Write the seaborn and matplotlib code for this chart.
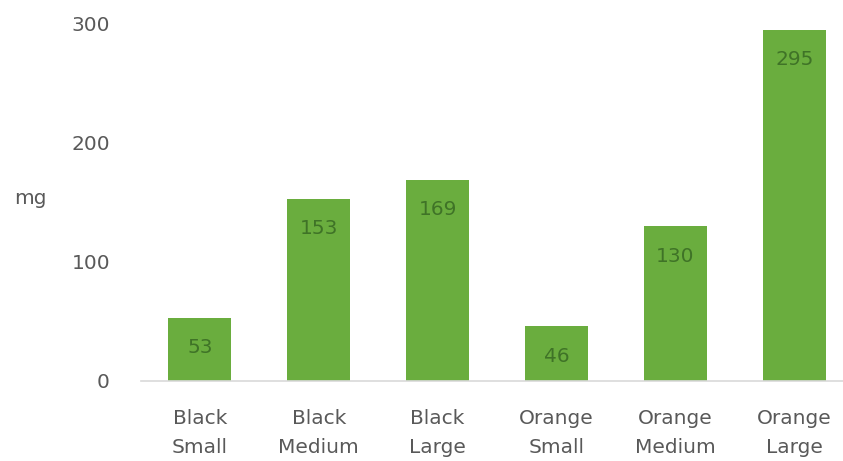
import matplotlib
matplotlib.use("Agg")
import matplotlib.pyplot as plt
import seaborn as sns
import pandas as pd

categories = ["Black\nSmall", "Black\nMedium", "Black\nLarge",
              "Orange\nSmall", "Orange\nMedium", "Orange\nLarge"]
values = [53, 153, 169, 46, 130, 295]
yticks = [0, 100, 200, 300]

sns.set_theme(style="white")
plt.rcParams['font.family'] = ['DejaVu Sans']

df = pd.DataFrame({"cat": categories, "mg": values})

fig = plt.figure(figsize=(8.43, 4.61), dpi=100)
ax = fig.add_axes([140.5/843, 1-381/461, 1-140.5/843, (381-12)/461])

sns.barplot(data=df, x="cat", y="mg", color="#6AAD3E", saturation=1,
            width=0.53, ax=ax, linewidth=0)

ax.set_ylim(0, 310)
ax.set_xlim(-0.5, 5.41)
ax.set_yticks(yticks)
ax.set_yticklabels([str(t) for t in yticks])

FS = 14.5
for s in ["top", "right", "left"]:
    ax.spines[s].set_visible(False)
ax.spines["bottom"].set_color("#D9D9D9")
ax.spines["bottom"].set_linewidth(1.2)

ax.tick_params(axis="y", length=0, pad=22, labelsize=FS, labelcolor="#595959")
ax.tick_params(axis="x", length=0, pad=20, labelsize=FS, labelcolor="#595959")
for lbl in ax.get_xticklabels():
    lbl.set_linespacing(1.7)

ax.set_xlabel("")
ax.set_ylabel("mg", rotation=0, fontsize=FS, color="#595959")
ax.yaxis.set_label_coords(-(140.5-30)/(843-140.5), (381-208)/369)

for i, v in enumerate(values):
    ax.annotate(str(v), xy=(i, v), xytext=(0, -30), textcoords="offset pixels",
                ha="center", va="center", fontsize=FS, color="#3F7327")

fig.savefig("out.png", dpi=100)
